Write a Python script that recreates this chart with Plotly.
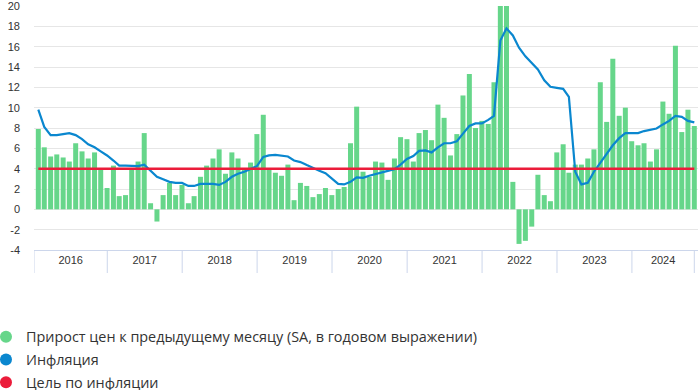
import plotly.graph_objects as go
import pandas as pd

# ---- data (monthly, Jan 2016 - Oct 2024) ----
start_month = "2016-02-01"
n_months = 106

growth_sa = [
    7.9, 6.1, 5.2, 5.4, 5.1, 4.7, 6.5, 5.7, 5.0, 5.6, 4.0, 2.1,      # 2016
    4.3, 1.3, 1.4, 4.0, 4.7, 7.5, 0.6, -1.2, 1.4, 2.6, 1.4, 2.4,     # 2017
    0.6, 1.3, 3.2, 4.3, 5.0, 5.9, 3.5, 5.6, 5.0, 4.0, 4.6, 7.4,      # 2018
    9.3, 4.0, 3.6, 3.3, 4.4, 0.9, 2.6, 2.3, 1.2, 1.5, 2.1, 1.4,      # 2019
    2.0, 2.2, 6.5, 10.1, 3.7, 3.2, 4.7, 4.6, 2.9, 5.0, 7.1, 6.9,     # 2020
    4.7, 7.5, 7.8, 6.8, 10.3, 9.0, 5.3, 7.4, 11.2, 13.3, 8.0, 8.7,   # 2021
    8.4, 12.5, 35.0, 21.0, 2.7, -3.4, -3.1, -1.7, 3.4, 1.4, 0.8, 5.6,  # 2022
    6.4, 3.6, 4.4, 4.4, 5.0, 5.9, 12.5, 8.6, 14.8, 9.2, 10.0, 6.7,   # 2023
    6.3, 6.5, 4.7, 5.9, 10.6, 9.4, 16.1, 7.6, 9.8, 8.2,              # 2024
]

inflation = [
    9.8, 8.1, 7.3, 7.3, 7.4, 7.5, 7.3, 6.9, 6.4, 6.1, 5.7, 5.3,
    4.8, 4.3, 4.3, 4.25, 4.25, 4.4, 3.8, 3.2, 2.95, 2.7, 2.6, 2.6,
    2.3, 2.3, 2.5, 2.5, 2.5, 2.4, 2.7, 3.2, 3.5, 3.7, 4.0, 4.25,
    5.15, 5.3, 5.35, 5.25, 5.2, 4.8, 4.65, 4.35, 4.05, 3.8, 3.55, 3.0,
    2.5, 2.45, 2.7, 3.15, 3.1, 3.3, 3.45, 3.6, 3.75, 3.95, 4.4, 4.95,
    5.25, 5.75, 5.8, 5.6, 6.1, 6.5, 6.5, 6.7, 7.45, 8.2, 8.45, 8.45,
    8.8, 9.2, 16.6, 17.8, 17.1, 15.9, 15.05, 14.35, 13.75, 12.7, 12.05, 11.95,
    11.85, 11.05, 3.7, 2.45, 2.6, 3.7, 4.6, 5.5, 6.3, 7.0, 7.5, 7.5,
    7.5, 7.7, 7.8, 7.95, 8.35, 8.7, 9.2, 9.1, 8.7, 8.55,
]

target_value = 4
target = [target_value] * n_months

year_labels = ["2016", "2017", "2018", "2019", "2020", "2021", "2022", "2023", "2024"]
y_tick_vals = [-4, -2, 0, 2, 4, 6, 8, 10, 12, 14, 16, 18, 20]
y_tick_text = ["-4", "-2", "0", "2", "4", "6", "8", "10", "12", "14", "16", "18", "20"]

names = [
    "Прирост цен к предыдущему месяцу (SA, в годовом выражении)",
    "Инфляция",
    "Цель по инфляции",
]

# ---- derived ----
GREEN = "#66d68a"
BLUE = "#0a87cf"
RED = "#eb1c3a"

dates = (pd.date_range(start_month, periods=n_months, freq="MS") - pd.Timedelta(days=1))
date_str = [d.strftime("%Y-%m-%d") for d in dates]

x_start = pd.Timestamp("2016-01-10")
x_end = pd.Timestamp("2024-11-18")
separators = [x_start] + [pd.Timestamp(f"{y}-01-01") for y in year_labels[1:]] + [dates[-1]]
mids = [separators[i] + (separators[i + 1] - separators[i]) / 2 for i in range(len(separators) - 1)]

bar_width_ms = 0.8 * 30.44 * 86400000

fig = go.Figure()
fig.add_trace(go.Bar(x=date_str, y=growth_sa, name=names[0], marker=dict(color=GREEN, line=dict(width=0)),
                     width=bar_width_ms, showlegend=False, hoverinfo="skip"))
fig.add_trace(go.Scatter(x=date_str, y=inflation, name=names[1], mode="lines",
                         line=dict(color=BLUE, width=2.2), showlegend=False, hoverinfo="skip"))
fig.add_trace(go.Scatter(x=date_str, y=target, name=names[2], mode="lines",
                         line=dict(color=RED, width=2.5), showlegend=False, hoverinfo="skip"))

for nm, col in zip(names, [GREEN, BLUE, RED]):
    fig.add_trace(go.Scatter(x=[None], y=[None], name=nm, mode="markers", legendgroup=nm,
                             marker=dict(symbol="circle", size=12, color=col)))

PLOT_H = 244
shapes = []
for s in separators:
    shapes.append(dict(type="line", xref="x", yref="paper", x0=s, x1=s, y0=0, y1=-23 / PLOT_H,
                       line=dict(color="#ccd6eb", width=1)))

fig.update_layout(
    width=700, height=390,
    margin=dict(l=34, r=2, t=6, b=140, autoexpand=False),
    plot_bgcolor="white", paper_bgcolor="white",
    shapes=shapes,
    xaxis=dict(type="date", range=[x_start, x_end], showgrid=False, zeroline=False, automargin=False,
               tickvals=mids, ticktext=year_labels, ticks="",
               showline=True, linecolor="#ccd6eb", linewidth=1,
               tickfont=dict(family="Liberation Sans, Arial", size=11, color="#333333")),
    yaxis=dict(range=[-4, 20], tickvals=y_tick_vals, ticktext=y_tick_text, showgrid=True, automargin=False,
               gridcolor="#e6e6e6", gridwidth=1, zeroline=False, ticks="", ticklabelstandoff=13,
               ticklabeloverflow="allow",
               tickfont=dict(family="Liberation Sans, Arial", size=11, color="#333333")),
    legend=dict(orientation="v", x=-0.0723, xanchor="left", y=-0.2905, yanchor="top",
                font=dict(family="Open Sans", size=14.4, color="#333333"),
                tracegroupgap=1, bgcolor="rgba(0,0,0,0)", itemclick=False),
)

fig.write_html("out.html", config={"displayModeBar": False},
               post_script="document.body.style.margin='0';document.body.style.overflow='hidden';")
